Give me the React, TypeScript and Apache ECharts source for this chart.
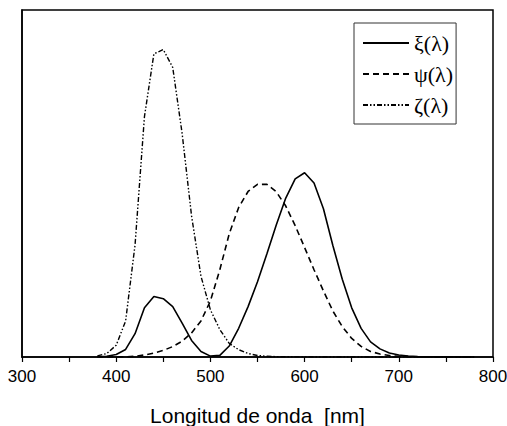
import React, { useEffect, useRef } from "react";
import * as echarts from "echarts";

const wavelengths = [380, 390, 400, 410, 420, 430, 440, 450, 460, 470, 480, 490, 500, 510, 520, 530, 540, 550, 560, 570, 580, 590, 600, 610, 620, 630, 640, 650, 660, 670, 680, 690, 700, 710, 720, 730, 740, 750, 760, 770, 780];
const xi = [0.0014, 0.0042, 0.0143, 0.0435, 0.1344, 0.2839, 0.3483, 0.3362, 0.2908, 0.1954, 0.0956, 0.032, 0.0049, 0.0093, 0.0633, 0.1655, 0.2904, 0.4334, 0.5945, 0.7621, 0.9163, 1.0263, 1.0622, 1.0026, 0.8544, 0.6424, 0.4479, 0.2835, 0.1649, 0.0874, 0.0468, 0.0227, 0.0114, 0.0058, 0.0029, 0.0014, 0.0007, 0.0003, 0.0002, 0.0001, 0.0];
const psi = [0.0, 0.0001, 0.0004, 0.0012, 0.004, 0.0116, 0.023, 0.038, 0.06, 0.091, 0.139, 0.208, 0.323, 0.503, 0.71, 0.862, 0.954, 0.995, 0.995, 0.952, 0.87, 0.757, 0.631, 0.503, 0.381, 0.265, 0.175, 0.107, 0.061, 0.032, 0.017, 0.0082, 0.0041, 0.0021, 0.001, 0.0005, 0.0002, 0.0001, 0.0001, 0.0, 0.0];
const zeta = [0.0065, 0.0201, 0.0679, 0.2074, 0.6456, 1.3856, 1.7471, 1.7721, 1.6692, 1.2876, 0.813, 0.4652, 0.272, 0.1582, 0.0783, 0.0422, 0.0203, 0.0088, 0.0039, 0.0021, 0.0017, 0.0011, 0.0008, 0.0003, 0.0002, 0.0, 0.0, 0.0, 0.0, 0.0, 0.0, 0.0, 0.0, 0.0, 0.0, 0.0, 0.0, 0.0, 0.0, 0.0, 0.0];
const seriesNames = ["ξ(λ)", "ψ(λ)", "ζ(λ)"];
const xTickLabels = [300, 400, 500, 600, 700, 800];

export default function App() {
  const ref = useRef<HTMLDivElement>(null);
  useEffect(() => {
    if (!ref.current) return;
    const chart = echarts.init(ref.current, null, { renderer: "svg" });
    const mk = (arr: number[]) => wavelengths.map((w, i) => [w, arr[i]]);
    const lineBase = { color: "#000", width: 1.6 };
    const sans = "'Liberation Sans', Arial, sans-serif";
    chart.setOption({
      animation: false,
      backgroundColor: "#fff",
      grid: {
        left: 22,
        right: 14,
        top: 10,
        bottom: 69,
        show: true,
        borderColor: "#000",
        borderWidth: 1.5,
        containLabel: false,
        outerBoundsMode: "none",
      },
      legend: {
        orient: "vertical",
        left: 354,
        top: 23,
        itemWidth: 46,
        itemHeight: 14,
        itemGap: 9,
        padding: [9, 3, 8, 8],
        borderColor: "#333",
        borderWidth: 1,
        itemStyle: { opacity: 0 },
        textStyle: {
          fontFamily: "'Liberation Serif', 'Times New Roman', serif",
          fontSize: 22,
          color: "#000",
        },
        data: seriesNames,
      },
      xAxis: {
        type: "value",
        min: 300,
        max: 800,
        interval: 50,
        axisLine: { show: true, lineStyle: { color: "#000", width: 1.5 } },
        axisTick: { show: true, length: 5, lineStyle: { color: "#000", width: 1.2 } },
        splitLine: { show: false },
        axisLabel: {
          color: "#000",
          fontFamily: sans,
          fontSize: 17,
          margin: 11,
          formatter: (v: number) => (xTickLabels.includes(v) ? String(v) : ""),
        },
        name: "Longitud de onda  [nm]",
        nameLocation: "middle",
        nameGap: 48,
        nameTextStyle: {
          color: "#000",
          fontFamily: sans,
          fontSize: 21,
        },
      },
      yAxis: {
        type: "value",
        min: 0,
        max: 2,
        axisLine: { show: true, lineStyle: { color: "#000", width: 1.5 } },
        axisTick: { show: false },
        axisLabel: { show: false },
        splitLine: { show: false },
      },
      series: [
        {
          name: seriesNames[0],
          type: "line",
          data: mk(xi),
          symbol: "none",
          lineStyle: { ...lineBase, type: "solid" },
          itemStyle: { color: "#000" },
        },
        {
          name: seriesNames[1],
          type: "line",
          data: mk(psi),
          symbol: "none",
          lineStyle: { ...lineBase, type: [6, 4] },
          itemStyle: { color: "#000" },
        },
        {
          name: seriesNames[2],
          type: "line",
          data: mk(zeta),
          symbol: "none",
          lineStyle: { ...lineBase, width: 1.4, type: [5, 2, 1.5, 2, 1.5, 2] },
          itemStyle: { color: "#000" },
        },
      ],
    });
    return () => chart.dispose();
  }, []);
  return <div ref={ref} style={{ width: 507, height: 426, position: "absolute", left: 0, top: 0 }} />;
}
